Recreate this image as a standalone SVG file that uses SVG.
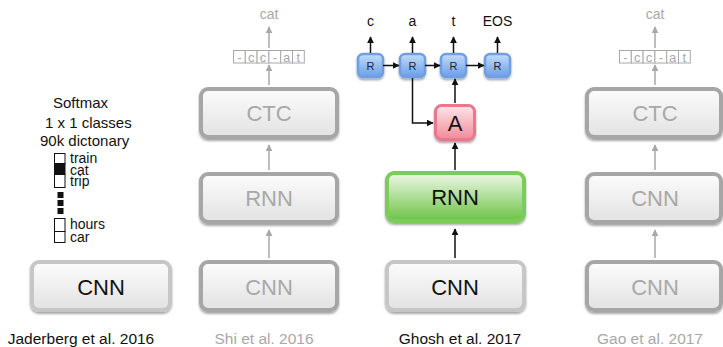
<svg xmlns="http://www.w3.org/2000/svg" width="723" height="347" viewBox="0 0 723 347">
<defs>
<linearGradient id="gGray" x1="0" y1="0" x2="0" y2="1"><stop offset="0" stop-color="#fcfcfc"/><stop offset="1" stop-color="#e2e2e2"/></linearGradient>
<linearGradient id="gGreen" x1="0" y1="0" x2="0" y2="1"><stop offset="0" stop-color="#eef8e8"/><stop offset="1" stop-color="#6cc244"/></linearGradient>
<linearGradient id="gPink" x1="0" y1="0" x2="0" y2="1"><stop offset="0" stop-color="#fde6ea"/><stop offset="1" stop-color="#f08a9a"/></linearGradient>
<linearGradient id="gBlue" x1="0" y1="0" x2="0" y2="1"><stop offset="0" stop-color="#c4dcf8"/><stop offset="1" stop-color="#6a9ee8"/></linearGradient>
<filter id="sh" x="-10%" y="-10%" width="120%" height="140%"><feDropShadow dx="0" dy="2" stdDeviation="1.2" flood-color="#000" flood-opacity="0.35"/></filter>
<marker id="ab" viewBox="0 0 10 10" refX="9" refY="5" markerWidth="7" markerHeight="7" markerUnits="userSpaceOnUse" orient="auto"><path d="M0,0 L10,5 L0,10 z" fill="#111"/></marker>
<marker id="ag" viewBox="0 0 10 10" refX="9" refY="5" markerWidth="7" markerHeight="7" markerUnits="userSpaceOnUse" orient="auto"><path d="M0,0 L10,5 L0,10 z" fill="#a8a8a8"/></marker>
</defs>
<style>
text{font-family:"Liberation Sans",Arial,Helvetica,sans-serif}
.boxL{fill:url(#gGray);stroke:#c6c6c6;stroke-width:4;filter:url(#sh)}
.boxD{fill:url(#gGray);stroke:#a6a6a6;stroke-width:4;filter:url(#sh)}
.boxG{fill:url(#gGreen);stroke:#7ccc5c;stroke-width:4;filter:url(#sh)}
.boxA{fill:url(#gPink);stroke:#e8788c;stroke-width:3;filter:url(#sh)}
.boxR{fill:url(#gBlue);stroke:#6e9fe4;stroke-width:2.5;filter:url(#sh)}
.big{font-size:22px;text-anchor:middle}
.dark{fill:#111}
.lite{fill:#a8a8a8}
.cap{font-size:15.5px;text-anchor:middle}
.leg{font-size:15px;fill:#111}
.legs{font-size:14px;fill:#111}
.cell{fill:#fff;stroke:#a8a8a8;stroke-width:1}
.celltxt{font-size:13px;fill:#a8a8a8;text-anchor:middle}
.cb{stroke:#111;stroke-width:1.5;fill:none;marker-end:url(#ab)}
.cg{stroke:#a8a8a8;stroke-width:1.5;fill:none;marker-end:url(#ag)}
.rt{font-size:11px;fill:#223;text-anchor:middle}
.out{font-size:14px;text-anchor:middle}
</style>

<g id="jaderberg-cnn"><rect class="boxL" x="32" y="262" width="138" height="48" rx="7"/><text class="big dark" x="101" y="295">CNN</text></g>
<g id="softmax-legend">
<text class="leg" x="53" y="108">Softmax</text>
<text class="leg" x="45" y="128">1 x 1 classes</text>
<text class="leg" x="40" y="146">90k dictonary</text>
<rect x="54.5" y="153.5" width="10.5" height="10" fill="#fff" stroke="#111" stroke-width="1"/>
<rect x="54.5" y="163.5" width="10.5" height="11" fill="#111" stroke="#111" stroke-width="1"/>
<rect x="54.5" y="174.5" width="10.5" height="13" fill="#fff" stroke="#111" stroke-width="1"/>
<rect x="57.5" y="192" width="6" height="6" fill="#111"/>
<rect x="57.5" y="200" width="6" height="6" fill="#111"/>
<rect x="57.5" y="208" width="6" height="6" fill="#111"/>
<rect x="54.5" y="218.5" width="10.5" height="13" fill="#fff" stroke="#111" stroke-width="1"/>
<rect x="54.5" y="231.5" width="10.5" height="11" fill="#fff" stroke="#111" stroke-width="1"/>
<text class="legs" x="70" y="163">train</text>
<text class="legs" x="70" y="174.5">cat</text>
<text class="legs" x="70" y="186">trip</text>
<text class="legs" x="70" y="229">hours</text>
<text class="legs" x="70" y="242">car</text>
</g>
<g id="cap-jaderberg"><text class="cap dark" x="81" y="344">Jaderberg et al. 2016</text></g>

<g id="shi-cnn"><rect class="boxD" x="201" y="262" width="136" height="48" rx="7"/><text class="big lite" x="269" y="295">CNN</text></g>
<g id="shi-rnn"><rect class="boxD" x="201" y="174" width="136" height="48" rx="7"/><text class="big lite" x="269" y="206">RNN</text></g>
<g id="shi-ctc"><rect class="boxD" x="201" y="89" width="136" height="48" rx="7"/><text class="big lite" x="269" y="121">CTC</text></g>
<g id="shi-seq">
<rect class="cell" x="233.5" y="50.5" width="11.8" height="12.5"/><rect class="cell" x="245.3" y="50.5" width="11.8" height="12.5"/><rect class="cell" x="257.1" y="50.5" width="11.8" height="12.5"/><rect class="cell" x="268.9" y="50.5" width="11.8" height="12.5"/><rect class="cell" x="280.7" y="50.5" width="11.8" height="12.5"/><rect class="cell" x="292.5" y="50.5" width="11.8" height="12.5"/>
<text class="celltxt" x="239.4" y="61.5">-</text><text class="celltxt" x="251.2" y="61.5">c</text><text class="celltxt" x="263" y="61.5">c</text><text class="celltxt" x="274.8" y="61.5">-</text><text class="celltxt" x="286.6" y="61.5">a</text><text class="celltxt" x="298.4" y="61.5">t</text>
</g>
<g id="shi-out"><text class="out lite" x="269" y="19">cat</text></g>
<g id="cap-shi"><text class="cap lite" x="264" y="344">Shi et al. 2016</text></g>

<g id="ghosh-cnn"><rect class="boxL" x="387" y="262" width="137" height="48" rx="7"/><text class="big dark" x="455" y="295">CNN</text></g>
<g id="ghosh-rnn"><rect class="boxG" x="387" y="173" width="137" height="48" rx="7"/><text class="big dark" x="455" y="205">RNN</text></g>
<g id="ghosh-attn"><rect class="boxA" x="435.5" y="105.5" width="39" height="34" rx="6"/><text x="455" y="131" font-size="22" text-anchor="middle" fill="#111">A</text></g>
<g id="ghosh-r1"><rect class="boxR" x="358" y="54" width="25" height="23" rx="5"/><text class="rt" x="370.5" y="69.5">R</text></g>
<g id="ghosh-r2"><rect class="boxR" x="400" y="54" width="25" height="23" rx="5"/><text class="rt" x="412.5" y="69.5">R</text></g>
<g id="ghosh-r3"><rect class="boxR" x="441" y="54" width="25" height="23" rx="5"/><text class="rt" x="453.5" y="69.5">R</text></g>
<g id="ghosh-r4"><rect class="boxR" x="485" y="54" width="25" height="23" rx="5"/><text class="rt" x="497.5" y="69.5">R</text></g>
<g id="ghosh-out">
<text class="out dark" x="370.5" y="26">c</text>
<text class="out dark" x="412.5" y="26">a</text>
<text class="out dark" x="453.5" y="26">t</text>
<text class="out dark" x="497.5" y="26">EOS</text>
</g>
<g id="cap-ghosh"><text class="cap dark" x="460" y="344">Ghosh et al. 2017</text></g>

<g id="gao-cnn1"><rect class="boxD" x="587" y="262" width="134" height="48" rx="7"/><text class="big lite" x="655" y="295">CNN</text></g>
<g id="gao-cnn2"><rect class="boxD" x="587" y="174" width="134" height="48" rx="7"/><text class="big lite" x="655" y="206">CNN</text></g>
<g id="gao-ctc"><rect class="boxD" x="587" y="89" width="134" height="48" rx="7"/><text class="big lite" x="655" y="121">CTC</text></g>
<g id="gao-seq">
<rect class="cell" x="619.5" y="50.5" width="11.8" height="12.5"/><rect class="cell" x="631.3" y="50.5" width="11.8" height="12.5"/><rect class="cell" x="643.1" y="50.5" width="11.8" height="12.5"/><rect class="cell" x="654.9" y="50.5" width="11.8" height="12.5"/><rect class="cell" x="666.7" y="50.5" width="11.8" height="12.5"/><rect class="cell" x="678.5" y="50.5" width="11.8" height="12.5"/>
<text class="celltxt" x="625.4" y="61.5">-</text><text class="celltxt" x="637.2" y="61.5">c</text><text class="celltxt" x="649" y="61.5">c</text><text class="celltxt" x="660.8" y="61.5">-</text><text class="celltxt" x="672.6" y="61.5">a</text><text class="celltxt" x="684.4" y="61.5">t</text>
</g>
<g id="gao-out"><text class="out lite" x="655" y="19">cat</text></g>
<g id="cap-gao"><text class="cap lite" x="650" y="344">Gao et al. 2017</text></g>

<g id="connectors">
<path class="cg" d="M269,258 V230"/>
<path class="cg" d="M269,170 V145"/>
<path class="cg" d="M269,85 V65"/>
<path class="cg" d="M269,48 V27"/>
<path class="cb" d="M455,258 V229"/>
<path class="cb" d="M455,170 V143"/>
<path class="cb" d="M455,103 V79"/>
<path class="cb" d="M412.5,78 V123 H433"/>
<path class="cb" d="M383,65.5 H399"/>
<path class="cb" d="M425,65.5 H440"/>
<path class="cb" d="M466,65.5 H484"/>
<path class="cb" d="M370.5,53 V37"/>
<path class="cb" d="M412.5,53 V37"/>
<path class="cb" d="M453.5,53 V37"/>
<path class="cb" d="M497.5,53 V37"/>
<path class="cg" d="M655,258 V230"/>
<path class="cg" d="M655,170 V145"/>
<path class="cg" d="M655,85 V65"/>
<path class="cg" d="M655,48 V27"/>
</g>
</svg>
